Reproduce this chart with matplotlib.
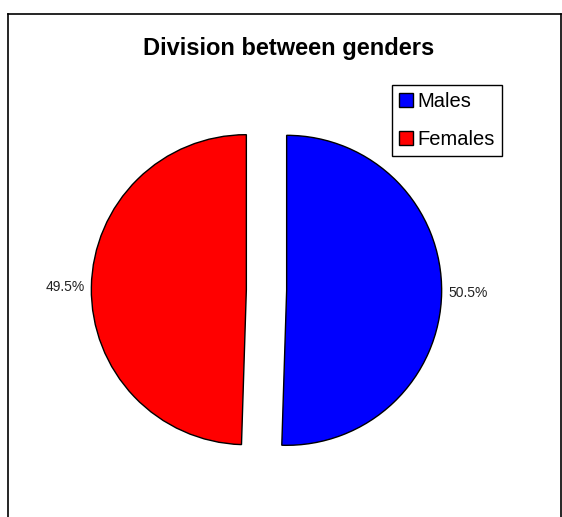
import matplotlib.pyplot as plt
from matplotlib.lines import Line2D

plt.rcParams['font.family'] = ['Liberation Sans', 'DejaVu Sans']

labels = ["Males", "Females"]
shares = [50.5, 49.5]
colors = ["#0000FF", "#FF0000"]

fig = plt.figure(figsize=(5.62, 5.17), dpi=100)
ax = fig.add_axes([0, 0, 1, 1])

wedges, texts, autotexts = ax.pie(
    shares, colors=colors, startangle=90, counterclock=False,
    explode=[0.13, 0.13], autopct='%1.1f%%', pctdistance=1.17,
    wedgeprops=dict(edgecolor='black', linewidth=1.0),
    textprops=dict(fontsize=10, color='#222222'))

# radius = 155 px, centre at (266.5, 290) px from top-left
ax.set_xlim(-266.5 / 155, (562 - 266.5) / 155)
ax.set_ylim(-(517 - 290) / 155, 290 / 155)
ax.set_aspect('auto')
ax.axis('off')

fig.text(289 / 562, 1 - 48 / 517, "Division between genders", ha='center', va='center',
         fontsize=17, fontweight='bold')

leg = ax.legend(wedges, labels, loc='upper left', bbox_to_anchor=(392 / 562, 1 - 85 / 517),
                bbox_transform=fig.transFigure, borderaxespad=0, fontsize=14.5,
                fancybox=False, edgecolor='black', framealpha=1,
                handlelength=0.7, handleheight=0.7, handletextpad=0.2,
                labelspacing=0.95, borderpad=0.35)
leg.get_frame().set_linewidth(1.0)

# chart area border (bottom edge falls outside the image)
fx = lambda px: px / 562
fy = lambda py: 1 - py / 517
for xs, ys in [((fx(7.5), fx(560.5)), (fy(14), fy(14))),
               ((fx(7.5), fx(7.5)), (fy(14), 0)),
               ((fx(560.5), fx(560.5)), (fy(14), 0))]:
    fig.add_artist(Line2D(xs, ys, color='black', linewidth=1.2,
                          transform=fig.transFigure))

fig.savefig("out.png", dpi=100)
